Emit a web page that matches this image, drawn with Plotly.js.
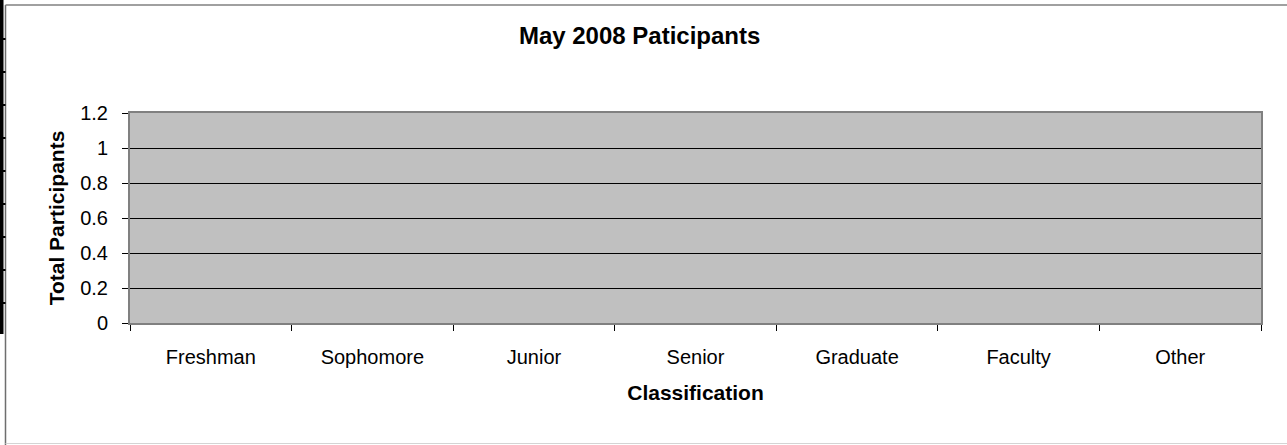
<!DOCTYPE html>
<html>
<head>
<meta charset="utf-8">
<script src="https://cdn.plot.ly/plotly-3.0.1.min.js"></script>
<style>
  html, body { margin: 0; padding: 0; background: #ffffff; }
  #chart { width: 1287px; height: 445px; }
</style>
</head>
<body>
<div id="chart"></div>
<script>
// ---- data ----
const categories = ["Freshman", "Sophomore", "Junior", "Senior", "Graduate", "Faculty", "Other"];
const participants = [0, 0, 0, 0, 0, 0, 0];
const yTickValues = [0, 0.2, 0.4, 0.6, 0.8, 1, 1.2];
const yTickLabels = ["0", "0.2", "0.4", "0.6", "0.8", "1", "1.2"];
const chartTitle = "May 2008 Paticipants";
const xTitle = "Classification";
const yTitle = "Total Participants";

// ---- layout helpers (pixel -> paper for decorative frame) ----
const W = 1287, H = 445;
const M = { l: 130, r: 26, t: 113, b: 122 };
const PW = W - M.l - M.r, PH = H - M.t - M.b;
const px = x => (x - M.l) / PW;
const py = y => (H - M.b - y) / PH;

const FONT = "Liberation Sans, Arial, Helvetica, sans-serif";

const shapes = [
  // outer chart frame
  { type: "line", xref: "paper", yref: "paper", x0: px(5.5), x1: px(5.5), y0: py(5), y1: py(445),
    line: { color: "#6e6e6e", width: 1.5 } },
  { type: "line", xref: "paper", yref: "paper", x0: px(5.5), x1: px(1287), y0: py(5), y1: py(5),
    line: { color: "#808080", width: 1.5 } },
  { type: "line", xref: "paper", yref: "paper", x0: px(5.5), x1: px(1287), y0: py(443.5), y1: py(443.5),
    line: { color: "#d4d4d4", width: 1 } },
  // black bar at the far left edge
  { type: "rect", xref: "paper", yref: "paper", x0: px(0), x1: px(3.5), y0: py(0), y1: py(334),
    fillcolor: "#000000", line: { width: 0 } }
];
[39, 72, 105, 138, 171, 204, 237, 270, 303].forEach(y => {
  shapes.push({ type: "rect", xref: "paper", yref: "paper", x0: px(3), x1: px(5.5), y0: py(y - 1), y1: py(y + 1),
    fillcolor: "#000000", line: { width: 0 } });
});

const trace = {
  type: "bar",
  x: categories,
  y: participants,
  marker: { color: "#9999ff", line: { width: 0 } },
  hoverinfo: "skip",
  showlegend: false
};

const layout = {
  width: W,
  height: H,
  margin: M,
  paper_bgcolor: "#ffffff",
  plot_bgcolor: "#c0c0c0",
  font: { family: FONT, color: "#000000" },
  title: {
    text: chartTitle,
    font: { family: FONT, size: 24, weight: 700, color: "#000000" },
    xref: "container", x: 0.497, xanchor: "center",
    yref: "container", y: 1 - 36 / H, yanchor: "middle"
  },
  xaxis: {
    type: "category",
    range: [-0.5, 6.5],
    showgrid: false,
    zeroline: false,
    showline: true, linecolor: "#808080", linewidth: 2, mirror: true,
    ticks: "outside", tickson: "boundaries", ticklen: 6, tickcolor: "#000000", tickwidth: 1,
    tickfont: { family: FONT, size: 20, color: "#000000" },
    ticklabelstandoff: 15,
    title: { text: xTitle, font: { family: FONT, size: 21, weight: 700, color: "#000000" }, standoff: 18 }
  },
  yaxis: {
    range: [0, 1.2],
    tickmode: "array", tickvals: yTickValues, ticktext: yTickLabels,
    showgrid: true, gridcolor: "#000000", gridwidth: 1,
    zeroline: false,
    showline: true, linecolor: "#808080", linewidth: 2, mirror: true,
    ticks: "outside", ticklen: 6, tickcolor: "#000000", tickwidth: 1,
    tickfont: { family: FONT, size: 20, color: "#000000" },
    ticklabelstandoff: 10,
    title: { text: yTitle, font: { family: FONT, size: 21, weight: 700, color: "#000000" }, standoff: 10 }
  },
  shapes: shapes
};

Plotly.newPlot("chart", [trace], layout, { displayModeBar: false, staticPlot: true });
</script>
</body>
</html>
